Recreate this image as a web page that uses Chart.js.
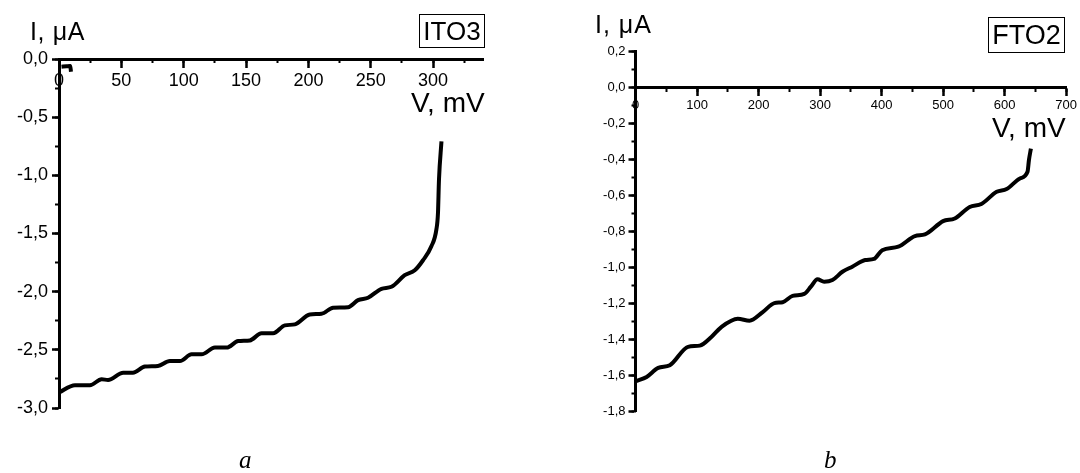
<!DOCTYPE html>
<html>
<head>
<meta charset="utf-8">
<script src="https://cdn.jsdelivr.net/npm/chart.js@4.4.0/dist/chart.umd.min.js"></script>
<style>
  html, body { margin: 0; padding: 0; background: #fff; }
  #wrap { position: relative; width: 1080px; height: 473px; overflow: hidden;
          font-family: "Liberation Sans", Arial, sans-serif; color: #000; }
  canvas { position: absolute; top: 0; }
  .lbl { position: absolute; white-space: nowrap; line-height: 1; }
  .box { position: absolute; border: 1px solid #000; box-sizing: border-box;
         text-align: center; white-space: nowrap; }
  .cap { position: absolute; font-family: "Liberation Serif", "Times New Roman", serif;
         font-style: italic; font-size: 25px; line-height: 1; }
</style>
</head>
<body>
<div id="wrap">
  <canvas id="ito" width="540" height="473" style="left:0"></canvas>
  <canvas id="fto" width="540" height="473" style="left:540px"></canvas>

  <div class="lbl" style="left:30px; top:19px; font-size:25px; letter-spacing:0.6px">I, &mu;A</div>
  <div class="lbl" style="left:411px; top:89px; font-size:28px">V, mV</div>
  <div class="box" style="left:419px; top:14px; width:66px; height:34px; font-size:26px; line-height:32px">ITO3</div>

  <div class="lbl" style="left:595px; top:12px; font-size:25px; letter-spacing:1px">I, &mu;A</div>
  <div class="lbl" style="left:992px; top:114px; font-size:28px">V, mV</div>
  <div class="box" style="left:988px; top:17px; width:77px; height:36px; font-size:27px; line-height:34px">FTO2</div>

  <div class="cap" style="left:239px; top:447px">a</div>
  <div class="cap" style="left:824px; top:447px">b</div>
</div>
<script>
// ITO3 (a): voltage, mV / current, uA
const itoV = [0, 12.8, 24.8, 34.2, 39.3, 51.5, 59.3, 68.9, 79.3, 88.9, 97.0, 106.3, 114.3,
  125.0, 134.4, 143.7, 153.0, 162.4, 171.7, 181.1, 189.1, 201.1, 210.5, 219.8, 231.8,
  239.8, 247.8, 258.6, 266.6, 277.2, 285.3, 291.9, 298.6, 302.6, 303.9, 304.7, 306.7];
const itoI = [-2.867, -2.804, -2.804, -2.753, -2.759, -2.696, -2.696, -2.644, -2.639, -2.596,
  -2.596, -2.539, -2.539, -2.481, -2.481, -2.425, -2.419, -2.358, -2.358, -2.290, -2.281,
  -2.196, -2.190, -2.138, -2.133, -2.073, -2.052, -1.975, -1.958, -1.858, -1.816, -1.730,
  -1.610, -1.467, -1.323, -1.038, -0.709];
// little stub drawn next to the origin
const itoStubV = [2, 6, 9, 9.6];
const itoStubI = [-0.066, -0.062, -0.06, -0.11];

// FTO2 (b)
const ftoV = [0.8, 18.1, 36.9, 55.8, 85.4, 104.4, 123.3, 139.5, 166.3, 185.3, 206.8, 225.7,
  239.2, 255.3, 274.3, 285.1, 295.8, 306.6, 320.1, 336.3, 352.4, 373.5, 387.5, 401.0,
  427.2, 454.2, 470.4, 500.0, 518.9, 543.2, 562.1, 587.1, 603.2, 624.9, 637.2, 639.5, 642.7];
const ftoI = [-1.631, -1.607, -1.557, -1.542, -1.440, -1.433, -1.385, -1.330, -1.284, -1.295,
  -1.247, -1.197, -1.192, -1.157, -1.146, -1.106, -1.065, -1.078, -1.069, -1.023, -0.995,
  -0.958, -0.952, -0.903, -0.884, -0.825, -0.816, -0.742, -0.727, -0.663, -0.647, -0.579,
  -0.564, -0.505, -0.468, -0.403, -0.339];

function toPts(xs, ys) {
  return xs.map((x, i) => ({ x: x, y: ys[i] }));
}

function comma(v) {
  return Number(v).toFixed(1).replace('.', ',');
}

function fixWidth(w) {
  return (scale) => { scale.width = w; };
}

function makePanel(id, series, cfg) {
  const font = { family: '"Liberation Sans", Arial, sans-serif', size: cfg.fontSize };
  const major = (step, min, max, cb, pad) => ({
    type: 'linear', min: min, max: max,
    ticks: { stepSize: step, includeBounds: false, autoSkip: false, maxRotation: 0,
             color: '#000', font: font, padding: pad, callback: cb },
    grid: { drawOnChartArea: false, tickLength: 7, tickWidth: 2.5, tickColor: '#000' },
    border: { display: true, color: '#000', width: 3 }
  });
  const minor = (step, min, max) => ({
    type: 'linear', min: min, max: max,
    ticks: { stepSize: step, includeBounds: false, display: false },
    grid: { drawOnChartArea: false, tickLength: 4, tickWidth: 2, tickColor: '#000' },
    border: { display: false }
  });

  const x = major(cfg.xStep, 0, cfg.xMax, (v) => v, cfg.xPad);
  x.position = { y: 0 };
  const xm = minor(cfg.xStep / 2, 0, cfg.xMax);
  xm.position = { y: 0 };
  xm.axis = 'x';

  // the labelled y axis takes the whole left margin, the minor one has no width
  const y = major(cfg.yStep, cfg.yMin, cfg.yMax, comma, cfg.yPad);
  y.position = 'left';
  y.weight = 1;
  y.afterFit = fixWidth(cfg.left);
  const ym = minor(cfg.yStep / 2, cfg.yMin, cfg.yMax);
  ym.position = 'left';
  ym.axis = 'y';
  ym.weight = 0;
  ym.afterFit = fixWidth(0);

  return new Chart(document.getElementById(id), {
    type: 'line',
    data: {
      datasets: series.map((s) => ({
        data: s,
        borderColor: '#000',
        borderWidth: 4,
        pointRadius: 0,
        cubicInterpolationMode: 'monotone',
        fill: false,
        clip: false
      }))
    },
    options: {
      responsive: false,
      animation: false,
      events: [],
      layout: { padding: cfg.pad },
      plugins: { legend: { display: false }, tooltip: { enabled: false } },
      scales: { x: x, xm: xm, y: y, ym: ym }
    }
  });
}

makePanel('ito', [toPts(itoV, itoI), toPts(itoStubV, itoStubI)], {
  xMax: 340, xStep: 50, yMin: -3, yMax: 0, yStep: 0.5,
  fontSize: 18, xPad: 4, yPad: 4, left: 59,
  pad: { left: 0, top: 59, right: 57, bottom: 65 }
});

makePanel('fto', [toPts(ftoV, ftoI)], {
  xMax: 700, xStep: 100, yMin: -1.8, yMax: 0.2, yStep: 0.2,
  fontSize: 13, xPad: 3, yPad: 3, left: 95.5,
  pad: { left: 0, top: 51.5, right: 12, bottom: 61.3 }
});
</script>
</body>
</html>
